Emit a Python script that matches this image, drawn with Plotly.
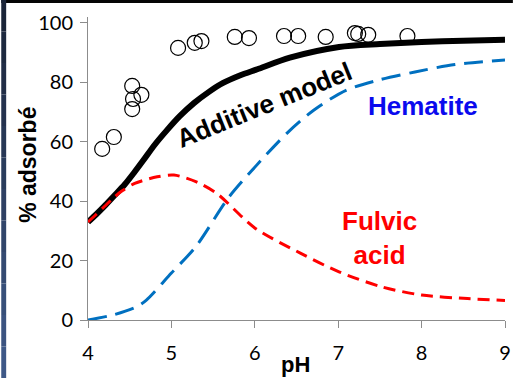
import plotly.graph_objects as go

# ---- data ----
obs_ph = [4.17, 4.31, 4.53, 4.54, 4.53, 4.64, 5.08, 5.28, 5.36, 5.76, 5.93,
          6.35, 6.52, 6.85, 7.20, 7.24, 7.36, 7.83]
obs_pct = [57.6, 61.6, 78.8, 74.4, 71.0, 75.8, 91.6, 93.3, 93.9, 95.3, 94.9,
           95.6, 95.6, 95.3, 96.6, 96.3, 96.0, 95.6]

additive_ph = [4.0, 4.1, 4.2, 4.3, 4.44, 4.55, 4.67, 4.8, 4.95, 5.1, 5.27, 5.45, 5.62,
               5.82, 6.03, 6.42, 7.01, 7.5, 8.0, 8.5, 9.0]
additive_pct = [33, 35.6, 38.4, 41.4, 45.6, 49.5, 54.0, 59, 64, 68.6, 73, 76.8, 79.8,
                82.3, 84.4, 88.3, 91.9, 92.9, 93.6, 94.0, 94.3]

hematite_ph = [4.0, 4.3, 4.58, 4.7, 5.0, 5.29, 5.68, 5.97, 6.39, 6.71, 7.1, 7.49, 7.92, 8.4, 9.0]
hematite_pct = [0, 1.7, 4.4, 6.7, 15.8, 24.6, 41, 50.5, 63, 70.7, 77.4, 80.8, 83.5, 86.0, 87.5]

fulvic_ph = [4.0, 4.1, 4.2, 4.3, 4.41, 4.56, 4.83, 5.03, 5.3, 5.54, 6.0, 6.54, 7.01, 7.53, 8.0, 8.55, 9.0]
fulvic_pct = [33, 35.6, 38.3, 41.0, 43.5, 46.0, 48.2, 48.8, 46.5, 42.7, 31, 22.6, 16.2, 11.1, 8.4, 7.2, 6.6]

x_ticks = [4, 5, 6, 7, 8, 9]
y_ticks = [0, 20, 40, 60, 80, 100]

# ---- layout constants ----
W, H = 519, 378
ML, MR, MT, MB = 88, 8, 17, 58
PW, PH = W - ML - MR, H - MT - MB

def px_to_paper_x(px):
    return (px - ML) / PW

def px_to_paper_y(py):
    return (H - MB - py) / PH

fig = go.Figure()

fig.add_trace(go.Scatter(x=additive_ph, y=additive_pct, mode="lines",
                         line=dict(color="black", width=6, shape="spline", smoothing=0.8),
                         hoverinfo="skip", showlegend=False))
fig.add_trace(go.Scatter(x=fulvic_ph, y=fulvic_pct, mode="lines",
                         line=dict(color="#FF0000", width=3, shape="spline", smoothing=0.8,
                                   dash="12px,7px"),
                         hoverinfo="skip", showlegend=False))
fig.add_trace(go.Scatter(x=hematite_ph, y=hematite_pct, mode="lines",
                         line=dict(color="#0070C0", width=3, shape="spline", smoothing=0.8,
                                   dash="19px,9px"),
                         hoverinfo="skip", showlegend=False))
fig.add_trace(go.Scatter(x=obs_ph, y=obs_pct, mode="markers",
                         marker=dict(symbol="circle-open", size=15, color="black",
                                     line=dict(width=1.2, color="black")),
                         showlegend=False))

# frame decorations (dark slide border)
shapes = []
shapes.append(dict(type="rect", xref="paper", yref="paper",
                   x0=px_to_paper_x(0), x1=px_to_paper_x(W),
                   y0=px_to_paper_y(3), y1=px_to_paper_y(0),
                   fillcolor="#050505", line=dict(width=0), layer="below"))
nseg = 12
c_top = (26, 36, 56)
c_bot = (62, 88, 135)
for i in range(nseg):
    t = i / (nseg - 1)
    c = tuple(int(round(c_top[k] + (c_bot[k] - c_top[k]) * t)) for k in range(3))
    shapes.append(dict(type="rect", xref="paper", yref="paper",
                       x0=px_to_paper_x(0), x1=px_to_paper_x(5),
                       y0=px_to_paper_y(H * (i + 1) / nseg), y1=px_to_paper_y(H * i / nseg),
                       fillcolor="rgb(%d,%d,%d)" % c, line=dict(width=0), layer="below"))

FONT = "Liberation Sans, Arial"
annotations = [
    dict(x=6.11, y=72.4, xref="x", yref="y", text="<b>Additive model</b>", showarrow=False,
         textangle=-22, xanchor="center", yanchor="middle",
         font=dict(family=FONT, size=26, color="black")),
    dict(x=8.02, y=71.9, xref="x", yref="y", text="<b>Hematite</b>", showarrow=False,
         xanchor="center", yanchor="middle",
         font=dict(family=FONT, size=26, color="#0A0AEE")),
    dict(x=7.49, y=27.6, xref="x", yref="y", text="<b>Fulvic<br>acid</b>", showarrow=False,
         xanchor="center", yanchor="middle",
         font=dict(family=FONT, size=26, color="#FF0000")),
    dict(x=px_to_paper_x(298), y=px_to_paper_y(364), xref="paper", yref="paper",
         text="<b>pH</b>", showarrow=False, xanchor="center", yanchor="middle",
         font=dict(family=FONT, size=22, color="black")),
    dict(x=px_to_paper_x(27), y=px_to_paper_y(165), xref="paper", yref="paper",
         text="<b>% adsorbé</b>", showarrow=False, textangle=-90,
         xanchor="center", yanchor="middle",
         font=dict(family=FONT, size=23, color="black")),
]

fig.update_layout(
    width=W, height=H,
    margin=dict(l=ML, r=MR, t=MT, b=MB, pad=0),
    paper_bgcolor="white", plot_bgcolor="white",
    shapes=shapes, annotations=annotations,
    xaxis=dict(range=[4, 9], tickvals=x_ticks, ticktext=[str(v) for v in x_ticks],
               showgrid=False, zeroline=False, showline=True, linecolor="#8C8C8C", linewidth=1,
               ticks="outside", ticklen=7, tickcolor="#8C8C8C", ticklabelstandoff=8,
               tickfont=dict(family="Lato", size=20, color="black")),
    yaxis=dict(range=[0, 102], tickvals=y_ticks, ticktext=[str(v) for v in y_ticks],
               showgrid=False, zeroline=False, showline=True, linecolor="#8C8C8C", linewidth=1,
               ticks="outside", ticklen=7, tickcolor="#8C8C8C", ticklabelstandoff=3,
               tickfont=dict(family="Lato", size=20, color="black")),
)

fig.write_html("out.html")
